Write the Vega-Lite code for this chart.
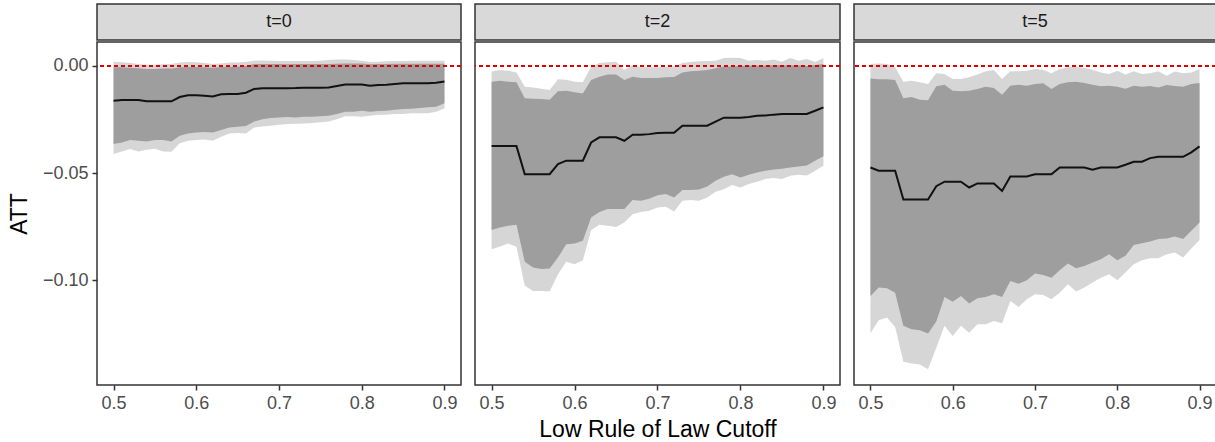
{
"$schema": "https://vega.github.io/schema/vega-lite/v6.json",
"padding": {"left": 7, "top": 3, "right": 0, "bottom": 0},
"background": "white",
"config": {
  "font": "Liberation Sans",
  "view": {"stroke": null},
  "axis": {"domain": false, "grid": false, "ticks": true, "tickColor": "#333333", "tickWidth": 1.5, "tickSize": 5, "labelColor": "#4d4d4d", "labelFontSize": 18, "labelFont": "Liberation Sans", "titleFont": "Liberation Sans", "titleFontSize": 23, "titleFontWeight": "normal", "titleColor": "black", "labelPadding": 4}
},
"datasets": {
  "strips": [{"t": "t=0"}, {"t": "t=2"}, {"t": "t=5"}],
  "att": [
{"t":"t=0","x":0.50,"est":-0.0162,"lo_in":-0.0364,"hi_in":-0.0006,"lo_out":-0.0411,"hi_out":0.0020},
{"t":"t=0","x":0.51,"est":-0.0159,"lo_in":-0.0357,"hi_in":-0.0006,"lo_out":-0.0399,"hi_out":0.0017},
{"t":"t=0","x":0.52,"est":-0.0159,"lo_in":-0.0346,"hi_in":-0.0008,"lo_out":-0.0388,"hi_out":0.0014},
{"t":"t=0","x":0.53,"est":-0.0159,"lo_in":-0.0349,"hi_in":-0.0011,"lo_out":-0.0399,"hi_out":0.0009},
{"t":"t=0","x":0.54,"est":-0.0165,"lo_in":-0.0352,"hi_in":-0.0014,"lo_out":-0.0391,"hi_out":0.0006},
{"t":"t=0","x":0.55,"est":-0.0165,"lo_in":-0.0346,"hi_in":-0.0014,"lo_out":-0.0386,"hi_out":0.0006},
{"t":"t=0","x":0.56,"est":-0.0165,"lo_in":-0.0346,"hi_in":-0.0012,"lo_out":-0.0399,"hi_out":0.0008},
{"t":"t=0","x":0.57,"est":-0.0165,"lo_in":-0.0352,"hi_in":-0.0012,"lo_out":-0.0400,"hi_out":0.0009},
{"t":"t=0","x":0.58,"est":-0.0145,"lo_in":-0.0326,"hi_in":-0.0006,"lo_out":-0.0361,"hi_out":0.0016},
{"t":"t=0","x":0.59,"est":-0.0137,"lo_in":-0.0315,"hi_in":-0.0005,"lo_out":-0.0349,"hi_out":0.0019},
{"t":"t=0","x":0.60,"est":-0.0137,"lo_in":-0.0310,"hi_in":-0.0005,"lo_out":-0.0346,"hi_out":0.0017},
{"t":"t=0","x":0.61,"est":-0.0139,"lo_in":-0.0308,"hi_in":-0.0006,"lo_out":-0.0343,"hi_out":0.0014},
{"t":"t=0","x":0.62,"est":-0.0142,"lo_in":-0.0310,"hi_in":-0.0008,"lo_out":-0.0349,"hi_out":0.0009},
{"t":"t=0","x":0.63,"est":-0.0132,"lo_in":-0.0299,"hi_in":-0.0005,"lo_out":-0.0330,"hi_out":0.0012},
{"t":"t=0","x":0.64,"est":-0.0131,"lo_in":-0.0287,"hi_in":-0.0003,"lo_out":-0.0315,"hi_out":0.0016},
{"t":"t=0","x":0.65,"est":-0.0131,"lo_in":-0.0283,"hi_in":-0.0003,"lo_out":-0.0313,"hi_out":0.0016},
{"t":"t=0","x":0.66,"est":-0.0125,"lo_in":-0.0280,"hi_in":0.0000,"lo_out":-0.0315,"hi_out":0.0019},
{"t":"t=0","x":0.67,"est":-0.0107,"lo_in":-0.0259,"hi_in":0.0009,"lo_out":-0.0287,"hi_out":0.0025},
{"t":"t=0","x":0.68,"est":-0.0104,"lo_in":-0.0248,"hi_in":0.0009,"lo_out":-0.0282,"hi_out":0.0026},
{"t":"t=0","x":0.69,"est":-0.0104,"lo_in":-0.0243,"hi_in":0.0009,"lo_out":-0.0279,"hi_out":0.0025},
{"t":"t=0","x":0.70,"est":-0.0104,"lo_in":-0.0240,"hi_in":0.0009,"lo_out":-0.0274,"hi_out":0.0023},
{"t":"t=0","x":0.71,"est":-0.0104,"lo_in":-0.0238,"hi_in":0.0008,"lo_out":-0.0271,"hi_out":0.0023},
{"t":"t=0","x":0.72,"est":-0.0103,"lo_in":-0.0240,"hi_in":0.0009,"lo_out":-0.0269,"hi_out":0.0023},
{"t":"t=0","x":0.73,"est":-0.0101,"lo_in":-0.0237,"hi_in":0.0009,"lo_out":-0.0268,"hi_out":0.0023},
{"t":"t=0","x":0.74,"est":-0.0101,"lo_in":-0.0237,"hi_in":0.0009,"lo_out":-0.0266,"hi_out":0.0023},
{"t":"t=0","x":0.75,"est":-0.0101,"lo_in":-0.0235,"hi_in":0.0009,"lo_out":-0.0263,"hi_out":0.0025},
{"t":"t=0","x":0.76,"est":-0.0100,"lo_in":-0.0232,"hi_in":0.0009,"lo_out":-0.0259,"hi_out":0.0028},
{"t":"t=0","x":0.77,"est":-0.0093,"lo_in":-0.0224,"hi_in":0.0011,"lo_out":-0.0248,"hi_out":0.0030},
{"t":"t=0","x":0.78,"est":-0.0086,"lo_in":-0.0213,"hi_in":0.0012,"lo_out":-0.0234,"hi_out":0.0030},
{"t":"t=0","x":0.79,"est":-0.0086,"lo_in":-0.0213,"hi_in":0.0012,"lo_out":-0.0234,"hi_out":0.0028},
{"t":"t=0","x":0.80,"est":-0.0086,"lo_in":-0.0209,"hi_in":0.0012,"lo_out":-0.0237,"hi_out":0.0025},
{"t":"t=0","x":0.81,"est":-0.0092,"lo_in":-0.0213,"hi_in":0.0008,"lo_out":-0.0232,"hi_out":0.0019},
{"t":"t=0","x":0.82,"est":-0.0089,"lo_in":-0.0210,"hi_in":0.0009,"lo_out":-0.0227,"hi_out":0.0020},
{"t":"t=0","x":0.83,"est":-0.0087,"lo_in":-0.0209,"hi_in":0.0009,"lo_out":-0.0227,"hi_out":0.0022},
{"t":"t=0","x":0.84,"est":-0.0084,"lo_in":-0.0204,"hi_in":0.0011,"lo_out":-0.0224,"hi_out":0.0023},
{"t":"t=0","x":0.85,"est":-0.0081,"lo_in":-0.0201,"hi_in":0.0011,"lo_out":-0.0224,"hi_out":0.0023},
{"t":"t=0","x":0.86,"est":-0.0081,"lo_in":-0.0199,"hi_in":0.0011,"lo_out":-0.0221,"hi_out":0.0025},
{"t":"t=0","x":0.87,"est":-0.0081,"lo_in":-0.0196,"hi_in":0.0011,"lo_out":-0.0220,"hi_out":0.0025},
{"t":"t=0","x":0.88,"est":-0.0081,"lo_in":-0.0193,"hi_in":0.0011,"lo_out":-0.0220,"hi_out":0.0025},
{"t":"t=0","x":0.89,"est":-0.0078,"lo_in":-0.0190,"hi_in":0.0011,"lo_out":-0.0213,"hi_out":0.0025},
{"t":"t=0","x":0.90,"est":-0.0072,"lo_in":-0.0174,"hi_in":0.0011,"lo_out":-0.0198,"hi_out":0.0025},
{"t":"t=2","x":0.50,"est":-0.0374,"lo_in":-0.0766,"hi_in":-0.0073,"lo_out":-0.0855,"hi_out":-0.0026},
{"t":"t=2","x":0.51,"est":-0.0374,"lo_in":-0.0754,"hi_in":-0.0069,"lo_out":-0.0843,"hi_out":-0.0019},
{"t":"t=2","x":0.52,"est":-0.0374,"lo_in":-0.0746,"hi_in":-0.0073,"lo_out":-0.0829,"hi_out":-0.0022},
{"t":"t=2","x":0.53,"est":-0.0374,"lo_in":-0.0741,"hi_in":-0.0076,"lo_out":-0.0844,"hi_out":-0.0030},
{"t":"t=2","x":0.54,"est":-0.0505,"lo_in":-0.0914,"hi_in":-0.0151,"lo_out":-0.1026,"hi_out":-0.0097},
{"t":"t=2","x":0.55,"est":-0.0505,"lo_in":-0.0941,"hi_in":-0.0153,"lo_out":-0.1050,"hi_out":-0.0100},
{"t":"t=2","x":0.56,"est":-0.0505,"lo_in":-0.0947,"hi_in":-0.0154,"lo_out":-0.1050,"hi_out":-0.0106},
{"t":"t=2","x":0.57,"est":-0.0505,"lo_in":-0.0945,"hi_in":-0.0157,"lo_out":-0.1053,"hi_out":-0.0112},
{"t":"t=2","x":0.58,"est":-0.0458,"lo_in":-0.0894,"hi_in":-0.0118,"lo_out":-0.0972,"hi_out":-0.0062},
{"t":"t=2","x":0.59,"est":-0.0442,"lo_in":-0.0832,"hi_in":-0.0115,"lo_out":-0.0914,"hi_out":-0.0064},
{"t":"t=2","x":0.60,"est":-0.0442,"lo_in":-0.0829,"hi_in":-0.0123,"lo_out":-0.0925,"hi_out":-0.0073},
{"t":"t=2","x":0.61,"est":-0.0442,"lo_in":-0.0816,"hi_in":-0.0128,"lo_out":-0.0907,"hi_out":-0.0076},
{"t":"t=2","x":0.62,"est":-0.0357,"lo_in":-0.0707,"hi_in":-0.0065,"lo_out":-0.0766,"hi_out":-0.0003},
{"t":"t=2","x":0.63,"est":-0.0333,"lo_in":-0.0681,"hi_in":-0.0050,"lo_out":-0.0741,"hi_out":0.0014},
{"t":"t=2","x":0.64,"est":-0.0333,"lo_in":-0.0668,"hi_in":-0.0040,"lo_out":-0.0746,"hi_out":0.0017},
{"t":"t=2","x":0.65,"est":-0.0333,"lo_in":-0.0668,"hi_in":-0.0040,"lo_out":-0.0751,"hi_out":0.0020},
{"t":"t=2","x":0.66,"est":-0.0349,"lo_in":-0.0667,"hi_in":-0.0065,"lo_out":-0.0731,"hi_out":-0.0017},
{"t":"t=2","x":0.67,"est":-0.0321,"lo_in":-0.0626,"hi_in":-0.0050,"lo_out":-0.0692,"hi_out":0.0002},
{"t":"t=2","x":0.68,"est":-0.0321,"lo_in":-0.0629,"hi_in":-0.0056,"lo_out":-0.0681,"hi_out":-0.0006},
{"t":"t=2","x":0.69,"est":-0.0318,"lo_in":-0.0620,"hi_in":-0.0056,"lo_out":-0.0676,"hi_out":-0.0006},
{"t":"t=2","x":0.70,"est":-0.0313,"lo_in":-0.0603,"hi_in":-0.0056,"lo_out":-0.0660,"hi_out":-0.0006},
{"t":"t=2","x":0.71,"est":-0.0312,"lo_in":-0.0598,"hi_in":-0.0053,"lo_out":-0.0657,"hi_out":-0.0005},
{"t":"t=2","x":0.72,"est":-0.0312,"lo_in":-0.0614,"hi_in":-0.0051,"lo_out":-0.0679,"hi_out":-0.0002},
{"t":"t=2","x":0.73,"est":-0.0279,"lo_in":-0.0579,"hi_in":-0.0030,"lo_out":-0.0629,"hi_out":0.0014},
{"t":"t=2","x":0.74,"est":-0.0279,"lo_in":-0.0579,"hi_in":-0.0025,"lo_out":-0.0626,"hi_out":0.0019},
{"t":"t=2","x":0.75,"est":-0.0279,"lo_in":-0.0576,"hi_in":-0.0022,"lo_out":-0.0629,"hi_out":0.0022},
{"t":"t=2","x":0.76,"est":-0.0279,"lo_in":-0.0562,"hi_in":-0.0019,"lo_out":-0.0614,"hi_out":0.0023},
{"t":"t=2","x":0.77,"est":-0.0260,"lo_in":-0.0536,"hi_in":-0.0011,"lo_out":-0.0587,"hi_out":0.0025},
{"t":"t=2","x":0.78,"est":-0.0241,"lo_in":-0.0517,"hi_in":-0.0002,"lo_out":-0.0575,"hi_out":0.0037},
{"t":"t=2","x":0.79,"est":-0.0241,"lo_in":-0.0505,"hi_in":-0.0002,"lo_out":-0.0556,"hi_out":0.0039},
{"t":"t=2","x":0.80,"est":-0.0241,"lo_in":-0.0520,"hi_in":0.0000,"lo_out":-0.0567,"hi_out":0.0037},
{"t":"t=2","x":0.81,"est":-0.0238,"lo_in":-0.0508,"hi_in":0.0002,"lo_out":-0.0551,"hi_out":0.0025},
{"t":"t=2","x":0.82,"est":-0.0232,"lo_in":-0.0497,"hi_in":0.0002,"lo_out":-0.0540,"hi_out":0.0028},
{"t":"t=2","x":0.83,"est":-0.0231,"lo_in":-0.0489,"hi_in":0.0002,"lo_out":-0.0528,"hi_out":0.0025},
{"t":"t=2","x":0.84,"est":-0.0227,"lo_in":-0.0483,"hi_in":0.0003,"lo_out":-0.0523,"hi_out":0.0030},
{"t":"t=2","x":0.85,"est":-0.0224,"lo_in":-0.0480,"hi_in":0.0003,"lo_out":-0.0528,"hi_out":0.0020},
{"t":"t=2","x":0.86,"est":-0.0224,"lo_in":-0.0474,"hi_in":0.0002,"lo_out":-0.0512,"hi_out":0.0037},
{"t":"t=2","x":0.87,"est":-0.0224,"lo_in":-0.0469,"hi_in":0.0003,"lo_out":-0.0508,"hi_out":0.0025},
{"t":"t=2","x":0.88,"est":-0.0224,"lo_in":-0.0464,"hi_in":0.0000,"lo_out":-0.0511,"hi_out":0.0033},
{"t":"t=2","x":0.89,"est":-0.0209,"lo_in":-0.0442,"hi_in":0.0005,"lo_out":-0.0489,"hi_out":0.0019},
{"t":"t=2","x":0.90,"est":-0.0193,"lo_in":-0.0421,"hi_in":0.0009,"lo_out":-0.0466,"hi_out":0.0036},
{"t":"t=5","x":0.50,"est":-0.0474,"lo_in":-0.1073,"hi_in":-0.0058,"lo_out":-0.1248,"hi_out":0.0009},
{"t":"t=5","x":0.51,"est":-0.0489,"lo_in":-0.1034,"hi_in":-0.0062,"lo_out":-0.1187,"hi_out":0.0012},
{"t":"t=5","x":0.52,"est":-0.0489,"lo_in":-0.1037,"hi_in":-0.0062,"lo_out":-0.1174,"hi_out":0.0009},
{"t":"t=5","x":0.53,"est":-0.0489,"lo_in":-0.1058,"hi_in":-0.0065,"lo_out":-0.1218,"hi_out":-0.0006},
{"t":"t=5","x":0.54,"est":-0.0623,"lo_in":-0.1213,"hi_in":-0.0151,"lo_out":-0.1380,"hi_out":-0.0073},
{"t":"t=5","x":0.55,"est":-0.0623,"lo_in":-0.1229,"hi_in":-0.0145,"lo_out":-0.1389,"hi_out":-0.0069},
{"t":"t=5","x":0.56,"est":-0.0623,"lo_in":-0.1234,"hi_in":-0.0157,"lo_out":-0.1393,"hi_out":-0.0076},
{"t":"t=5","x":0.57,"est":-0.0623,"lo_in":-0.1249,"hi_in":-0.0160,"lo_out":-0.1416,"hi_out":-0.0084},
{"t":"t=5","x":0.58,"est":-0.0561,"lo_in":-0.1193,"hi_in":-0.0095,"lo_out":-0.1315,"hi_out":-0.0034},
{"t":"t=5","x":0.59,"est":-0.0540,"lo_in":-0.1078,"hi_in":-0.0087,"lo_out":-0.1213,"hi_out":-0.0037},
{"t":"t=5","x":0.60,"est":-0.0540,"lo_in":-0.1100,"hi_in":-0.0115,"lo_out":-0.1260,"hi_out":-0.0061},
{"t":"t=5","x":0.61,"est":-0.0540,"lo_in":-0.1073,"hi_in":-0.0118,"lo_out":-0.1213,"hi_out":-0.0061},
{"t":"t=5","x":0.62,"est":-0.0567,"lo_in":-0.1109,"hi_in":-0.0115,"lo_out":-0.1245,"hi_out":-0.0053},
{"t":"t=5","x":0.63,"est":-0.0548,"lo_in":-0.1084,"hi_in":-0.0107,"lo_out":-0.1206,"hi_out":-0.0040},
{"t":"t=5","x":0.64,"est":-0.0548,"lo_in":-0.1078,"hi_in":-0.0097,"lo_out":-0.1206,"hi_out":-0.0025},
{"t":"t=5","x":0.65,"est":-0.0548,"lo_in":-0.1065,"hi_in":-0.0103,"lo_out":-0.1190,"hi_out":-0.0019},
{"t":"t=5","x":0.66,"est":-0.0583,"lo_in":-0.1078,"hi_in":-0.0134,"lo_out":-0.1201,"hi_out":-0.0061},
{"t":"t=5","x":0.67,"est":-0.0516,"lo_in":-0.1003,"hi_in":-0.0092,"lo_out":-0.1097,"hi_out":-0.0025},
{"t":"t=5","x":0.68,"est":-0.0516,"lo_in":-0.1016,"hi_in":-0.0087,"lo_out":-0.1125,"hi_out":-0.0025},
{"t":"t=5","x":0.69,"est":-0.0516,"lo_in":-0.1000,"hi_in":-0.0092,"lo_out":-0.1089,"hi_out":-0.0022},
{"t":"t=5","x":0.70,"est":-0.0505,"lo_in":-0.0969,"hi_in":-0.0084,"lo_out":-0.1065,"hi_out":-0.0014},
{"t":"t=5","x":0.71,"est":-0.0505,"lo_in":-0.0975,"hi_in":-0.0081,"lo_out":-0.1069,"hi_out":-0.0017},
{"t":"t=5","x":0.72,"est":-0.0505,"lo_in":-0.0988,"hi_in":-0.0107,"lo_out":-0.1089,"hi_out":-0.0034},
{"t":"t=5","x":0.73,"est":-0.0474,"lo_in":-0.0953,"hi_in":-0.0084,"lo_out":-0.1058,"hi_out":-0.0014},
{"t":"t=5","x":0.74,"est":-0.0474,"lo_in":-0.0922,"hi_in":-0.0076,"lo_out":-0.1019,"hi_out":-0.0006},
{"t":"t=5","x":0.75,"est":-0.0474,"lo_in":-0.0944,"hi_in":-0.0073,"lo_out":-0.1053,"hi_out":-0.0003},
{"t":"t=5","x":0.76,"est":-0.0474,"lo_in":-0.0933,"hi_in":-0.0079,"lo_out":-0.1034,"hi_out":-0.0009},
{"t":"t=5","x":0.77,"est":-0.0484,"lo_in":-0.0917,"hi_in":-0.0087,"lo_out":-0.1011,"hi_out":-0.0017},
{"t":"t=5","x":0.78,"est":-0.0474,"lo_in":-0.0902,"hi_in":-0.0095,"lo_out":-0.0988,"hi_out":-0.0030},
{"t":"t=5","x":0.79,"est":-0.0474,"lo_in":-0.0879,"hi_in":-0.0092,"lo_out":-0.0972,"hi_out":-0.0037},
{"t":"t=5","x":0.80,"est":-0.0474,"lo_in":-0.0907,"hi_in":-0.0097,"lo_out":-0.1000,"hi_out":-0.0022},
{"t":"t=5","x":0.81,"est":-0.0461,"lo_in":-0.0886,"hi_in":-0.0106,"lo_out":-0.0964,"hi_out":-0.0040},
{"t":"t=5","x":0.82,"est":-0.0447,"lo_in":-0.0836,"hi_in":-0.0092,"lo_out":-0.0925,"hi_out":-0.0025},
{"t":"t=5","x":0.83,"est":-0.0447,"lo_in":-0.0827,"hi_in":-0.0097,"lo_out":-0.0907,"hi_out":-0.0037},
{"t":"t=5","x":0.84,"est":-0.0430,"lo_in":-0.0819,"hi_in":-0.0093,"lo_out":-0.0897,"hi_out":-0.0034},
{"t":"t=5","x":0.85,"est":-0.0424,"lo_in":-0.0808,"hi_in":-0.0100,"lo_out":-0.0897,"hi_out":-0.0025},
{"t":"t=5","x":0.86,"est":-0.0424,"lo_in":-0.0805,"hi_in":-0.0089,"lo_out":-0.0879,"hi_out":-0.0045},
{"t":"t=5","x":0.87,"est":-0.0424,"lo_in":-0.0796,"hi_in":-0.0093,"lo_out":-0.0871,"hi_out":-0.0026},
{"t":"t=5","x":0.88,"est":-0.0424,"lo_in":-0.0808,"hi_in":-0.0097,"lo_out":-0.0894,"hi_out":-0.0034},
{"t":"t=5","x":0.89,"est":-0.0403,"lo_in":-0.0769,"hi_in":-0.0084,"lo_out":-0.0852,"hi_out":-0.0030},
{"t":"t=5","x":0.90,"est":-0.0375,"lo_in":-0.0731,"hi_in":-0.0079,"lo_out":-0.0812,"hi_out":-0.0014}
  ]
},
"spacing": 10,
"hconcat": [
 {"spacing": 0, "vconcat": [
  {"data": {"name": "strips"}, "transform": [{"filter": "datum.t == 't=0'"}], "width": 364, "height": 36,
   "view": {"fill": "#d9d9d9", "stroke": "#333333", "strokeWidth": 1.5},
   "mark": {"type": "text", "fontSize": 18, "color": "#1a1a1a", "font": "Liberation Sans"},
   "encoding": {"text": {"field": "t"}}},
  {"data": {"name": "att"}, "transform": [{"filter": "datum.t == 't=0'"}], "width": 364, "height": 343,
   "view": {"fill": "white", "stroke": "#333333", "strokeWidth": 1.5},
   "layer": [
    {"mark": {"type": "area", "color": "#d6d6d6", "clip": true},
     "encoding": {
      "x": {"field": "x", "type": "quantitative", "scale": {"domain": [0.48, 0.92], "nice": false, "zero": false}, "axis": {"title": null, "values": [0.5, 0.6, 0.7, 0.8, 0.9], "format": ".1f", "labelFlush": false}},
      "y": {"field": "lo_out", "type": "quantitative", "scale": {"domain": [-0.1489, 0.0112], "nice": false, "zero": false}, "axis": {"title": "ATT", "values": [-0.1, -0.05, 0], "format": ".2f", "labelExpr": "replace(datum.label, '-', '−')", "titlePadding": 11}}, "y2": {"field": "hi_out"}}},
    {"mark": {"type": "area", "color": "#9e9e9e", "clip": true},
     "encoding": {
      "x": {"field": "x", "type": "quantitative", "scale": {"domain": [0.48, 0.92], "nice": false, "zero": false}, "axis": {"title": null, "values": [0.5, 0.6, 0.7, 0.8, 0.9], "format": ".1f", "labelFlush": false}},
      "y": {"field": "lo_in", "type": "quantitative", "scale": {"domain": [-0.1489, 0.0112], "nice": false, "zero": false}, "axis": {"title": "ATT", "values": [-0.1, -0.05, 0], "format": ".2f", "labelExpr": "replace(datum.label, '-', '−')", "titlePadding": 11}}, "y2": {"field": "hi_in"}}},
    {"mark": {"type": "rule", "color": "#e00000", "strokeDash": [4, 3], "strokeWidth": 1.1},
     "encoding": {"y": {"datum": 0, "type": "quantitative", "scale": {"domain": [-0.1489, 0.0112], "nice": false, "zero": false}, "axis": {"title": "ATT", "values": [-0.1, -0.05, 0], "format": ".2f", "labelExpr": "replace(datum.label, '-', '−')", "titlePadding": 11}}}},
    {"mark": {"type": "line", "color": "#111111", "strokeWidth": 2, "clip": true},
     "encoding": {
      "x": {"field": "x", "type": "quantitative", "scale": {"domain": [0.48, 0.92], "nice": false, "zero": false}, "axis": {"title": null, "values": [0.5, 0.6, 0.7, 0.8, 0.9], "format": ".1f", "labelFlush": false}},
      "y": {"field": "est", "type": "quantitative", "scale": {"domain": [-0.1489, 0.0112], "nice": false, "zero": false}, "axis": {"title": "ATT", "values": [-0.1, -0.05, 0], "format": ".2f", "labelExpr": "replace(datum.label, '-', '−')", "titlePadding": 11}}}}
   ]}
 ]},
 {"spacing": 0, "vconcat": [
  {"data": {"name": "strips"}, "transform": [{"filter": "datum.t == 't=2'"}], "width": 365, "height": 36,
   "view": {"fill": "#d9d9d9", "stroke": "#333333", "strokeWidth": 1.5},
   "mark": {"type": "text", "fontSize": 18, "color": "#1a1a1a", "font": "Liberation Sans"},
   "encoding": {"text": {"field": "t"}}},
  {"data": {"name": "att"}, "transform": [{"filter": "datum.t == 't=2'"}], "width": 365, "height": 343,
   "view": {"fill": "white", "stroke": "#333333", "strokeWidth": 1.5},
   "layer": [
    {"mark": {"type": "area", "color": "#d6d6d6", "clip": true},
     "encoding": {
      "x": {"field": "x", "type": "quantitative", "scale": {"domain": [0.48, 0.92], "nice": false, "zero": false}, "axis": {"title": "Low Rule of Law Cutoff", "titlePadding": 6, "values": [0.5, 0.6, 0.7, 0.8, 0.9], "format": ".1f", "labelFlush": false}},
      "y": {"field": "lo_out", "type": "quantitative", "scale": {"domain": [-0.1489, 0.0112], "nice": false, "zero": false}, "axis": null}, "y2": {"field": "hi_out"}}},
    {"mark": {"type": "area", "color": "#9e9e9e", "clip": true},
     "encoding": {
      "x": {"field": "x", "type": "quantitative", "scale": {"domain": [0.48, 0.92], "nice": false, "zero": false}, "axis": {"title": "Low Rule of Law Cutoff", "titlePadding": 6, "values": [0.5, 0.6, 0.7, 0.8, 0.9], "format": ".1f", "labelFlush": false}},
      "y": {"field": "lo_in", "type": "quantitative", "scale": {"domain": [-0.1489, 0.0112], "nice": false, "zero": false}, "axis": null}, "y2": {"field": "hi_in"}}},
    {"mark": {"type": "rule", "color": "#e00000", "strokeDash": [4, 3], "strokeWidth": 1.1},
     "encoding": {"y": {"datum": 0, "type": "quantitative", "scale": {"domain": [-0.1489, 0.0112], "nice": false, "zero": false}, "axis": null}}},
    {"mark": {"type": "line", "color": "#111111", "strokeWidth": 2, "clip": true},
     "encoding": {
      "x": {"field": "x", "type": "quantitative", "scale": {"domain": [0.48, 0.92], "nice": false, "zero": false}, "axis": {"title": "Low Rule of Law Cutoff", "titlePadding": 6, "values": [0.5, 0.6, 0.7, 0.8, 0.9], "format": ".1f", "labelFlush": false}},
      "y": {"field": "est", "type": "quantitative", "scale": {"domain": [-0.1489, 0.0112], "nice": false, "zero": false}, "axis": null}}}
   ]}
 ]},
 {"spacing": 0, "vconcat": [
  {"data": {"name": "strips"}, "transform": [{"filter": "datum.t == 't=5'"}], "width": 362, "height": 36,
   "view": {"fill": "#d9d9d9", "stroke": "#333333", "strokeWidth": 1.5},
   "mark": {"type": "text", "fontSize": 18, "color": "#1a1a1a", "font": "Liberation Sans"},
   "encoding": {"text": {"field": "t"}}},
  {"data": {"name": "att"}, "transform": [{"filter": "datum.t == 't=5'"}], "width": 362, "height": 343,
   "view": {"fill": "white", "stroke": "#333333", "strokeWidth": 1.5},
   "layer": [
    {"mark": {"type": "area", "color": "#d6d6d6", "clip": true},
     "encoding": {
      "x": {"field": "x", "type": "quantitative", "scale": {"domain": [0.48, 0.92], "nice": false, "zero": false}, "axis": {"title": null, "values": [0.5, 0.6, 0.7, 0.8, 0.9], "format": ".1f", "labelFlush": false}},
      "y": {"field": "lo_out", "type": "quantitative", "scale": {"domain": [-0.1489, 0.0112], "nice": false, "zero": false}, "axis": null}, "y2": {"field": "hi_out"}}},
    {"mark": {"type": "area", "color": "#9e9e9e", "clip": true},
     "encoding": {
      "x": {"field": "x", "type": "quantitative", "scale": {"domain": [0.48, 0.92], "nice": false, "zero": false}, "axis": {"title": null, "values": [0.5, 0.6, 0.7, 0.8, 0.9], "format": ".1f", "labelFlush": false}},
      "y": {"field": "lo_in", "type": "quantitative", "scale": {"domain": [-0.1489, 0.0112], "nice": false, "zero": false}, "axis": null}, "y2": {"field": "hi_in"}}},
    {"mark": {"type": "rule", "color": "#e00000", "strokeDash": [4, 3], "strokeWidth": 1.1},
     "encoding": {"y": {"datum": 0, "type": "quantitative", "scale": {"domain": [-0.1489, 0.0112], "nice": false, "zero": false}, "axis": null}}},
    {"mark": {"type": "line", "color": "#111111", "strokeWidth": 2, "clip": true},
     "encoding": {
      "x": {"field": "x", "type": "quantitative", "scale": {"domain": [0.48, 0.92], "nice": false, "zero": false}, "axis": {"title": null, "values": [0.5, 0.6, 0.7, 0.8, 0.9], "format": ".1f", "labelFlush": false}},
      "y": {"field": "est", "type": "quantitative", "scale": {"domain": [-0.1489, 0.0112], "nice": false, "zero": false}, "axis": null}}}
   ]}
 ]}
]
}
